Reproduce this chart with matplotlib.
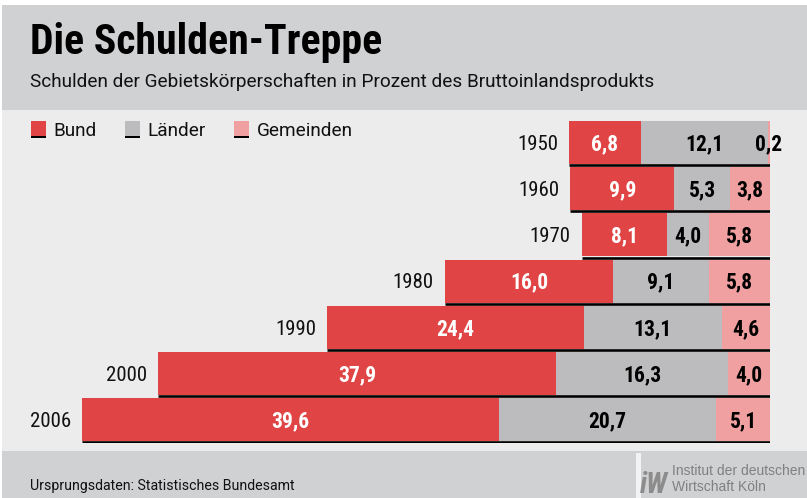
import matplotlib
matplotlib.use("Agg")
import matplotlib.pyplot as plt
from matplotlib.patches import Rectangle
from matplotlib import font_manager as fm

# ---------------- data ----------------
years = ["1950", "1960", "1970", "1980", "1990", "2000", "2006"]
bund = [6.8, 9.9, 8.1, 16.0, 24.4, 37.9, 39.6]
laender = [12.1, 5.3, 4.0, 9.1, 13.1, 16.3, 20.7]
gemeinden = [0.2, 3.8, 5.8, 5.8, 4.6, 4.0, 5.1]
series_names = ["Bund", "Länder", "Gemeinden"]
title = "Die Schulden-Treppe"
subtitle = "Schulden der Gebietskörperschaften in Prozent des Bruttoinlandsprodukts"
source = "Ursprungsdaten: Statistisches Bundesamt"
logo_lines = ["Institut der deutschen", "Wirtschaft Köln"]

RED = "#e04444"
GREY = "#bcbcbe"
PINK = "#f0a0a0"
HEAD = "#d0d1d3"
MID = "#ececec"

# ---------------- fonts ----------------
names = {f.name for f in fm.fontManager.ttflist}


def pick(cands):
    for c in cands:
        if c in names:
            return [c, "DejaVu Sans"]
    return ["DejaVu Sans"]


COND = pick(["Roboto Condensed", "Open Sans Condensed", "Liberation Sans Narrow", "Roboto"])
REG = pick(["Roboto", "Lato", "Open Sans"])
ARIAL = pick(["Liberation Sans", "Roboto"])
plt.rcParams["font.family"] = REG

W, H = 807, 498
fig = plt.figure(figsize=(W / 100, H / 100), dpi=100)
fig.patch.set_facecolor("white")
renderer = fig.canvas.get_renderer()


def fx(px):
    return px / W


def fy(py):
    return 1 - py / H


def size_for(s, target_w, **kw):
    t = fig.text(0, 0, s, fontsize=20, **kw)
    w = t.get_window_extent(renderer).width
    t.remove()
    return 20 * target_w / w


def rect(x0, y0, x1, y1, color):
    fig.add_artist(Rectangle((fx(x0), fy(y1)), fx(x1) - fx(x0), fy(y0) - fy(y1),
                             transform=fig.transFigure, facecolor=color,
                             edgecolor="none", zorder=0))


rect(2, 5, W, 110, HEAD)
rect(2, 110, W, 450.5, MID)
rect(2, 450.5, W, H, HEAD)

# ---------------- header text ----------------
fs_title = size_for(title, 350, family=COND, fontweight="bold")
fig.text(fx(30), fy(54), title, fontsize=fs_title, fontweight="bold", color="black",
         va="baseline", ha="left", family=COND)
fs_sub = size_for(subtitle, 624, family=REG)
fig.text(fx(30), fy(87), subtitle, fontsize=fs_sub, color="#111111",
         va="baseline", ha="left", family=REG)

# ---------------- legend ----------------
fs_leg = size_for("Gemeinden", 96, family=REG)
leg_colors = [RED, GREY, PINK]
leg_x = [31, 125, 234]
for name, c, x in zip(series_names, leg_colors, leg_x):
    rect(x, 121, x + 14.5, 136, c)
    rect(x, 136, x + 14.5, 138.3, "black")
    fig.text(fx(x + 22.5), fy(136), name, fontsize=fs_leg, color="#111111",
             va="baseline", ha="left", family=REG)

# ---------------- bars ----------------
SCALE = 688 / 65.4  # px per unit
RIGHT = 770
LEFT_PX = 3
PITCH = 46.17
top_px = 142.5 - PITCH / 2
bot_px = 142.5 + 6 * PITCH + PITCH / 2
ax = fig.add_axes([fx(LEFT_PX), fy(bot_px), fx(RIGHT) - fx(LEFT_PX), fy(top_px) - fy(bot_px)])
ax.set_xlim(-(RIGHT - LEFT_PX) / SCALE, 0)
ax.set_ylim(6.5, -0.5)
ax.axis("off")
ax.patch.set_alpha(0)

fs_lab = size_for("16,0", 38, family=COND, fontweight="bold")
fs_year = size_for("1950", 41, family=COND)
lab_shift = (0.711 * fs_lab * 100 / 72) / 2 / PITCH
year_shift = (0.711 * fs_year * 100 / 72) / 2 / PITCH

bh = 43 / PITCH
line_off = bh / 2 + 1.3 / PITCH
for i, (y, b, l, g) in enumerate(zip(years, bund, laender, gemeinden)):
    total = b + l + g
    segs = [(b, -total, RED, "white"), (l, -total + b, GREY, "black"), (g, -g, PINK, "black")]
    for v, left, c, tc in segs:
        ax.barh(i, v, left=left, height=bh, color=c, edgecolor="none", zorder=2)
        ax.text(left + v / 2, i + lab_shift, f"{v:.1f}".replace(".", ","), ha="center",
                va="baseline", fontsize=fs_lab, fontweight="bold", color=tc, zorder=4,
                family=COND)
    ax.hlines(i + line_off, -total, 0, colors="black", linewidth=1.9,
              capstyle="butt", zorder=3)
    ax.text(-total - 11 / SCALE, i + year_shift, y, ha="right", va="baseline",
            fontsize=fs_year, color="#111111", zorder=4, family=COND)

# ---------------- footer ----------------
fs_src = size_for(source, 262, family=REG)
fig.text(fx(30), fy(490), source, fontsize=fs_src, color="#111111",
         va="baseline", ha="left", family=REG)
rect(636, 453, 641, H, "#f3f3f3")
fs_logo = size_for("iW", 28, family=COND, fontweight="bold", style="italic")
fig.text(fx(640), fy(493), "iW", fontsize=fs_logo, fontweight="bold", style="italic",
         color="#8c8c8c", va="baseline", ha="left", family=COND)
fs_lt = size_for(logo_lines[0], 132, family=ARIAL)
fig.text(fx(672), fy(475), logo_lines[0], fontsize=fs_lt, color="#808080",
         va="baseline", ha="left", family=ARIAL)
fig.text(fx(672), fy(490.5), logo_lines[1], fontsize=fs_lt, color="#808080",
         va="baseline", ha="left", family=ARIAL)

fig.savefig("out.png", dpi=100, facecolor="white")
